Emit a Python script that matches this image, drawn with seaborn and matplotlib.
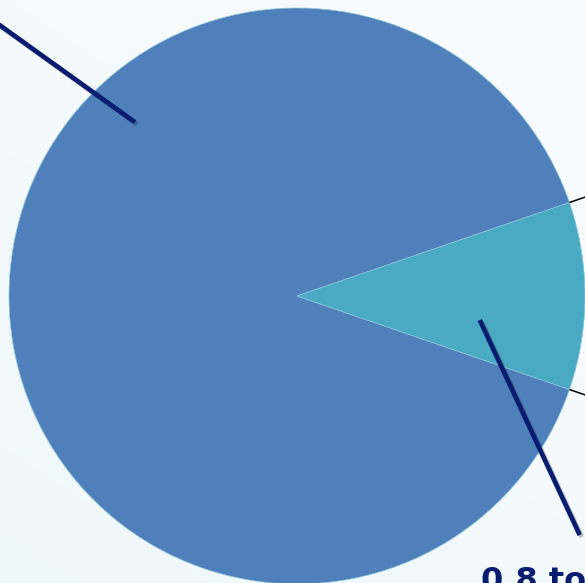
import numpy as np
import matplotlib.pyplot as plt
import matplotlib.patheffects as pe
import seaborn as sns

# Pie data (tonnes)
categories = ['Rest', 'Share']
values = [6.8, 0.8]
labels = ['6.8 tonnes', '0.8 tonnes']
colors = ['#4f80bc', '#4aaac4']
navy = '#0a1c70'

sns.set_theme(style='white')

fig = plt.figure(figsize=(5.85, 5.83), dpi=100)

# soft background gradient
bg = fig.add_axes([0, 0, 1, 1])
yy, xx = np.mgrid[0:1:200j, 0:1:200j]
grad = np.clip(0.6 * yy + 0.4 * xx, 0, 1)
c_low = np.array([0.935, 0.97, 0.98])
c_high = np.array([0.975, 0.988, 1.0])
img = c_low[None, None, :] * (1 - grad[..., None]) + c_high[None, None, :] * grad[..., None]
bg.imshow(img, origin='lower', extent=[0, 1, 0, 1], aspect='auto')
bg.axis('off')

ax = fig.add_axes([0, 0, 1, 1])
cx, cy, R = 297, 287, 288
start = 180 * values[1] / sum(values)
wedges, _ = ax.pie(values, colors=colors, startangle=start, center=(cx, cy),
                   radius=R, frame=True,
                   wedgeprops=dict(edgecolor='#8cc6d8', linewidth=0.5))
ax.set_xlim(0, 585)
ax.set_ylim(0, 583)
ax.set_aspect('equal')
ax.axis('off')

# thin radial ticks at the small slice edges
for ang in (wedges[1].theta1, wedges[1].theta2):
    a = np.deg2rad(ang)
    ax.plot([cx + R * np.cos(a), cx + (R + 25) * np.cos(a)],
            [cy + R * np.sin(a), cy + (R + 25) * np.sin(a)],
            color='black', lw=1.1, solid_capstyle='butt')

shadow = [pe.SimpleLineShadow(offset=(1.5, -1.5), alpha=0.25), pe.Normal()]

# leader for the small slice
a = np.deg2rad(-7.5)
p0 = (cx + 0.64 * R * np.cos(a), cy + 0.64 * R * np.sin(a))
p1 = (p0[0] + 100, p0[1] - 215)
ax.plot([p0[0], p1[0]], [p0[1], p1[1]], color=navy, lw=3.4,
        solid_capstyle='butt', path_effects=shadow)
ax.text(481, -7, labels[1], color=navy, fontsize=23, fontweight='bold',
        ha='left', va='baseline')

# leader for the large slice (label runs off the canvas)
a = np.deg2rad(133)
q0 = (cx + 0.825 * R * np.cos(a), cy + 0.825 * R * np.sin(a))
q1 = (q0[0] - 170, q0[1] + 122)
ax.plot([q0[0], q1[0]], [q0[1], q1[1]], color=navy, lw=3.4,
        solid_capstyle='butt', path_effects=shadow)

fig.savefig('out.png', dpi=100)
